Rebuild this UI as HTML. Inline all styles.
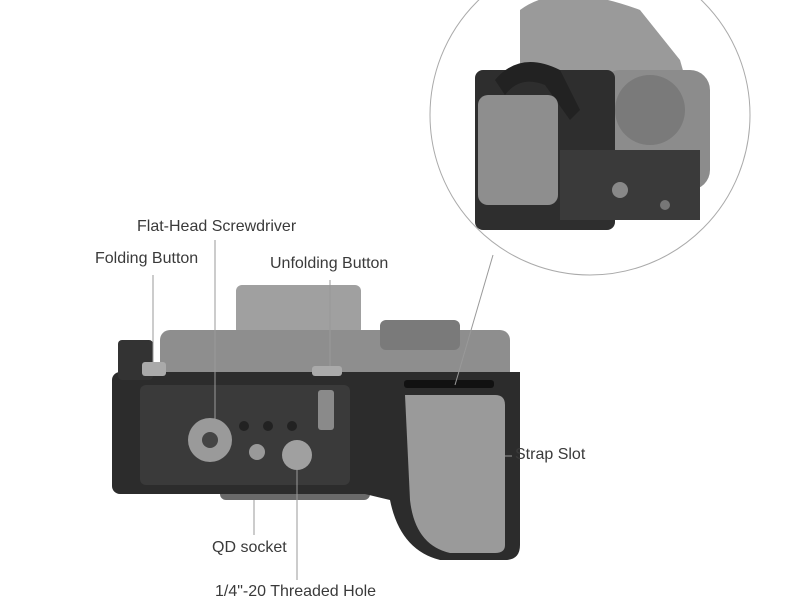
<!DOCTYPE html>
<html><head><style>
body{margin:0;background:#fff;width:800px;height:600px;overflow:hidden;font-family:"Liberation Sans",sans-serif}
.t{position:absolute;font-size:16px;color:#3a3a3a;white-space:nowrap}
</style></head><body>
<svg width="800" height="600" style="position:absolute;left:0;top:0">
<defs><clipPath id="c"><circle cx="590" cy="115" r="160"/></clipPath></defs>
<g clip-path="url(#c)">
<rect x="420" y="-50" width="340" height="330" fill="#fff"/>
<path d="M520 10 Q560 -20 640 10 L680 60 L700 130 L700 200 L520 200 Z" fill="#9a9a9a"/>
<rect x="600" y="70" width="110" height="120" rx="20" fill="#8c8c8c"/>
<circle cx="650" cy="110" r="35" fill="#7a7a7a"/>
<rect x="475" y="70" width="140" height="160" rx="8" fill="#2e2e2e"/>
<rect x="560" y="150" width="140" height="70" fill="#3a3a3a"/>
<path d="M495 80 Q520 50 560 70 L580 110 L570 120 L545 85 Q520 75 505 95 Z" fill="#222"/>
<rect x="478" y="95" width="80" height="110" rx="10" fill="#8e8e8e"/>
<circle cx="620" cy="190" r="8" fill="#888"/>
<circle cx="665" cy="205" r="5" fill="#777"/>
</g>
<circle cx="590" cy="115" r="160" fill="none" stroke="#aaa" stroke-width="1"/>
<rect x="236" y="285" width="125" height="50" rx="6" fill="#a0a0a0"/>
<rect x="160" y="330" width="350" height="55" rx="10" fill="#8e8e8e"/>
<rect x="380" y="320" width="80" height="30" rx="6" fill="#7a7a7a"/>
<rect x="220" y="475" width="150" height="25" rx="6" fill="#6a6a6a"/>
<rect x="112" y="372" width="408" height="122" rx="8" fill="#2c2c2c"/>
<path d="M365 372 L520 372 L520 545 Q520 560 505 560 L440 560 Q400 550 390 500 L365 494 Z" fill="#2c2c2c"/>
<rect x="118" y="340" width="35" height="40" rx="4" fill="#333"/>
<path d="M405 395 L495 395 Q505 395 505 405 L505 545 Q505 553 495 553 L450 553 Q415 545 410 500 Z" fill="#9a9a9a"/>
<rect x="140" y="385" width="210" height="100" rx="6" fill="#3a3a3a"/>
<circle cx="210" cy="440" r="22" fill="#9a9a9a"/>
<circle cx="210" cy="440" r="8" fill="#444"/>
<circle cx="297" cy="455" r="15" fill="#a0a0a0"/>
<circle cx="257" cy="452" r="8" fill="#999"/>
<circle cx="244" cy="426" r="5" fill="#222"/><circle cx="268" cy="426" r="5" fill="#222"/><circle cx="292" cy="426" r="5" fill="#222"/>
<rect x="318" y="390" width="16" height="40" rx="3" fill="#8a8a8a"/>
<rect x="312" y="366" width="30" height="10" rx="3" fill="#aaa"/>
<rect x="142" y="362" width="24" height="14" rx="3" fill="#aaa"/>
<rect x="404" y="380" width="90" height="8" rx="3" fill="#111"/>
<g stroke="#999" stroke-width="1" fill="none">
<line x1="153" y1="275" x2="153" y2="362"/>
<line x1="215" y1="240" x2="215" y2="420"/>
<line x1="330" y1="280" x2="330" y2="366"/>
<line x1="493" y1="255" x2="455" y2="385"/>
<line x1="505" y1="456" x2="512" y2="456"/>
<line x1="254" y1="500" x2="254" y2="535"/>
<line x1="297" y1="470" x2="297" y2="580"/>
</g>
</svg>
<div class="t" style="left:137px;top:218px">Flat-Head Screwdriver</div>
<div class="t" style="left:95px;top:250px">Folding Button</div>
<div class="t" style="left:270px;top:255px">Unfolding Button</div>
<div class="t" style="left:515px;top:446px">Strap Slot</div>
<div class="t" style="left:212px;top:539px">QD socket</div>
<div class="t" style="left:215px;top:583px">1/4"-20 Threaded Hole</div>
</body></html>
